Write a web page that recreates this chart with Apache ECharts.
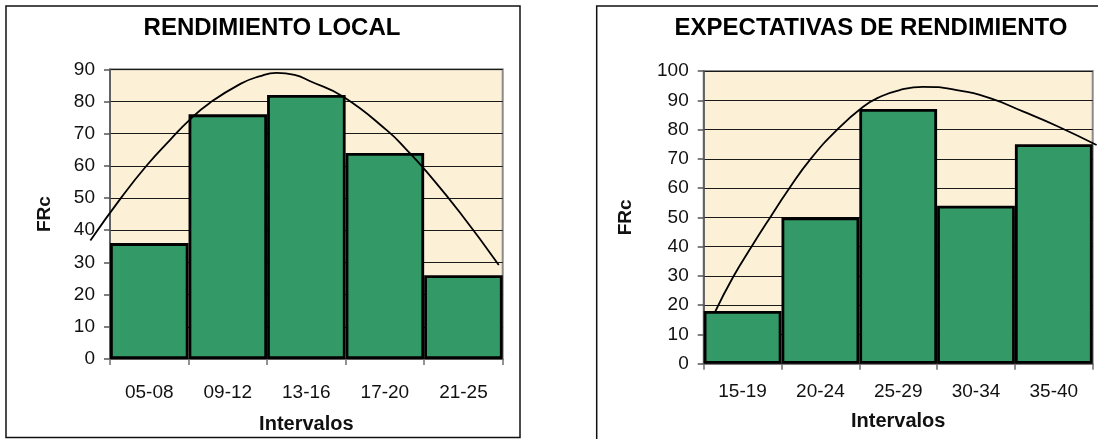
<!DOCTYPE html>
<html>
<head>
<meta charset="utf-8">
<script src="https://cdn.jsdelivr.net/npm/echarts@6/dist/echarts.min.js"></script>
<style>
  html, body { margin: 0; padding: 0; background: #ffffff; }
  #chart { width: 1098px; height: 439px; }
</style>
</head>
<body>
<div id="chart"></div>
<script>
// Rendimiento local: frecuencias por intervalo
const categoriesLocal = ['05-08', '09-12', '13-16', '17-20', '21-25'];
const frcLocal = [36, 76, 82, 64, 26];
// Curva de tendencia (posición en intervalos, FRc)
const curveLocalX = [-0.25, 0.15, 0.47, 0.76, 1.02, 1.27, 1.66, 1.9, 2.12, 2.35, 2.55, 2.97, 3.53, 3.78, 4.03, 4.46, 4.95];
const curveLocalY = [37, 50.5, 60.3, 68.0, 74.5, 79.6, 85.5, 87.8, 88.9, 88.3, 86.3, 81.5, 71.0, 65.0, 58.3, 45.5, 29.4];

// Expectativas de rendimiento
const categoriesExp = ['15-19', '20-24', '25-29', '30-34', '35-40'];
const frcExp = [18, 50, 87, 54, 75];
const curveExpX = [0.14, 0.38, 0.62, 0.85, 1.09, 1.37, 1.71, 2.05, 2.27, 2.52, 2.82, 3.25, 3.68, 4.11, 4.54, 5.05];
const curveExpY = [17.4, 29.7, 40.2, 49.8, 59.5, 69.8, 79.8, 87.8, 91.2, 93.5, 94.6, 93.5, 90.7, 86.1, 81.2, 74.7];

// Ejes verticales
const yMaxLocal = 90;
const yMaxExp = 100;
const yStep = 10;

const FONT = "'Liberation Sans', Arial, sans-serif";
const BAR_GREEN = '#339966';
const PLOT_BG = '#fcf0d7';

// Plot rectangles (px); the trend-curve grids share their scale and reach a bit past them
const plotLocal = { left: 110, top: 69.3, width: 392.7, height: 290.7 };
const plotExp = { left: 703.7, top: 71, width: 389, height: 292.7 };

function curveGrid(p, xMin, xMax) {
  const cw = p.width / 5;
  return { left: p.left + xMin * cw, top: p.top, width: (xMax - xMin) * cw, height: p.height, show: false };
}

const chart = echarts.init(document.getElementById('chart'), null, { renderer: 'canvas' });

function zip(xs, ys) { return xs.map((x, i) => [x, ys[i]]); }

function catAxis(gridIndex, cats, margin, nameGap) {
  return {
    type: 'category', gridIndex, data: cats,
    boundaryGap: true,
    axisLine: { show: true, lineStyle: { color: '#707070', width: 1.5 } },
    axisTick: { show: true, length: 6, alignWithLabel: false, lineStyle: { color: '#707070', width: 1.5 } },
    axisLabel: { color: '#111', fontFamily: FONT, fontSize: 19, margin },
    name: 'Intervalos', nameLocation: 'middle', nameGap,
    nameTextStyle: { color: '#111', fontFamily: FONT, fontSize: 20, fontWeight: 'bold' },
    splitLine: { show: false }
  };
}

function curveXAxis(gridIndex, min, max) {
  return { type: 'value', gridIndex, min, max, show: false, splitLine: { show: false } };
}
function curveYAxis(gridIndex, max) {
  return { type: 'value', gridIndex, min: 0, max, show: false, splitLine: { show: false } };
}

function valAxis(gridIndex, max, nameGap) {
  return {
    type: 'value', gridIndex, min: 0, max, interval: yStep,
    axisLine: { show: true, lineStyle: { color: '#555', width: 1.5 } },
    axisTick: { show: true, length: 6, lineStyle: { color: '#555', width: 1.5 } },
    axisLabel: { color: '#111', fontFamily: FONT, fontSize: 19, margin: 15 },
    splitLine: { show: true, lineStyle: { color: '#1a1a1a', width: 1 } },
    name: 'FRc', nameLocation: 'middle', nameGap, nameRotate: 90,
    nameTextStyle: { color: '#111', fontFamily: FONT, fontSize: 19, fontWeight: 'bold' }
  };
}

function barSeries(xi, yi, data) {
  return {
    type: 'bar', xAxisIndex: xi, yAxisIndex: yi, data,
    barWidth: '100%', barCategoryGap: 0, z: 2,
    itemStyle: { color: BAR_GREEN, borderColor: '#000', borderWidth: 2.8 },
    emphasis: { disabled: true }
  };
}

function curveSeries(xi, yi, xs, ys) {
  return {
    type: 'line', xAxisIndex: xi, yAxisIndex: yi, data: zip(xs, ys),
    smooth: 0.5, showSymbol: false, clip: false, z: 5,
    lineStyle: { color: '#000', width: 1.8 },
    emphasis: { disabled: true }
  };
}

const option = {
  animation: false,
  backgroundColor: '#ffffff',
  grid: [
    Object.assign({ show: true, backgroundColor: PLOT_BG, borderColor: '#8a8a8a', borderWidth: 2 }, plotLocal),
    Object.assign({ show: true, backgroundColor: PLOT_BG, borderColor: '#8a8a8a', borderWidth: 2 }, plotExp),
    curveGrid(plotLocal, -0.5, 5.2),
    curveGrid(plotExp, -0.1, 5.06)
  ],
  xAxis: [
    catAxis(0, categoriesLocal, 24, 55),
    catAxis(1, categoriesExp, 19, 48),
    curveXAxis(2, -0.5, 5.2),
    curveXAxis(3, -0.1, 5.06)
  ],
  yAxis: [
    valAxis(0, yMaxLocal, 56),
    valAxis(1, yMaxExp, 68),
    curveYAxis(2, yMaxLocal),
    curveYAxis(3, yMaxExp)
  ],
  series: [
    barSeries(0, 0, frcLocal),
    barSeries(1, 1, frcExp),
    curveSeries(2, 2, curveLocalX, curveLocalY),
    curveSeries(3, 3, curveExpX, curveExpY)
  ],
  graphic: [
    { type: 'rect', shape: { x: 6, y: 6, width: 514, height: 431.5 }, style: { fill: null, stroke: '#111', lineWidth: 1.5 }, z: 10, silent: true },
    { type: 'rect', shape: { x: 596.7, y: 6, width: 510, height: 440 }, style: { fill: null, stroke: '#111', lineWidth: 1.5 }, z: 10, silent: true },
    { type: 'text', x: 272, y: 28, style: { text: 'RENDIMIENTO LOCAL', fill: '#000', font: "bold 24px 'Liberation Sans', Arial, sans-serif", align: 'center', verticalAlign: 'middle' }, z: 10, silent: true },
    { type: 'text', x: 871, y: 28, style: { text: 'EXPECTATIVAS DE RENDIMIENTO', fill: '#000', font: "bold 24px 'Liberation Sans', Arial, sans-serif", align: 'center', verticalAlign: 'middle' }, z: 10, silent: true }
  ]
};

chart.setOption(option);
</script>
</body>
</html>
